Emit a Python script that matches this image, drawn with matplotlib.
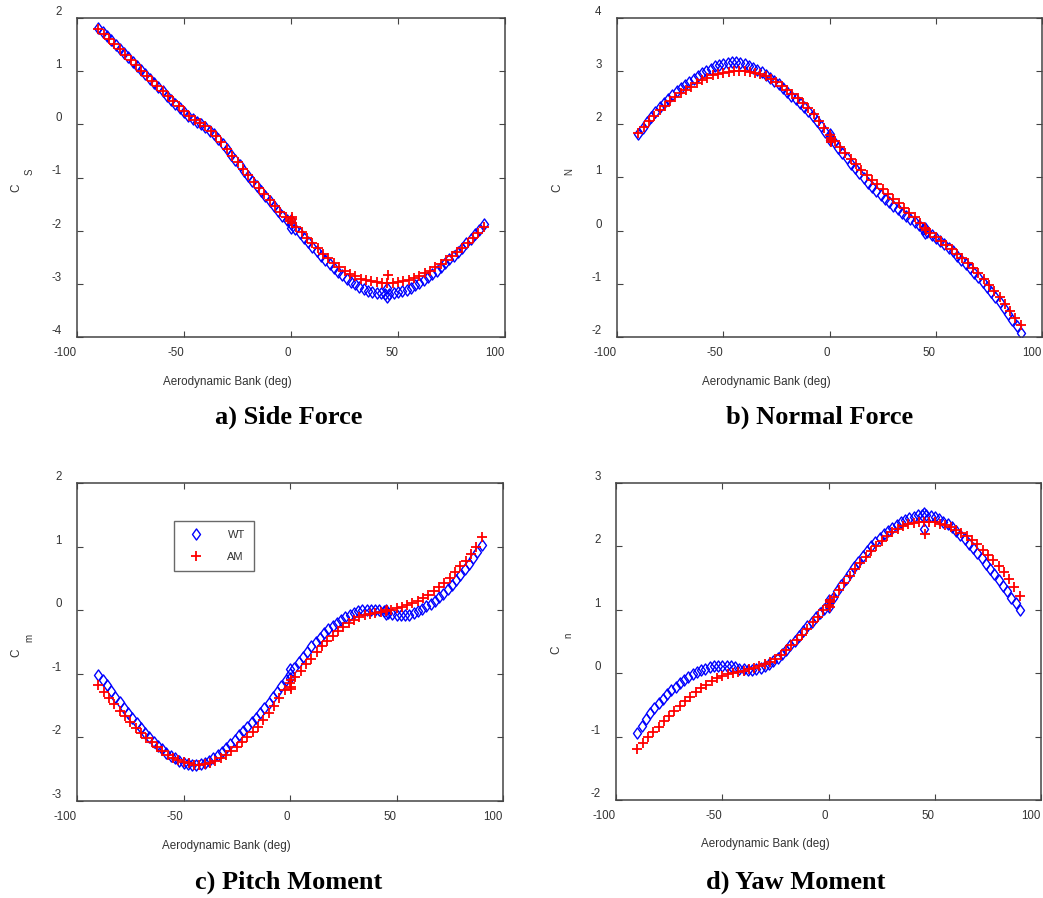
import matplotlib
matplotlib.use("Agg")
import matplotlib.pyplot as plt
from matplotlib.path import Path

# bank angles (deg)
bank_wt = [-90, -88, -86, -84, -82, -80, -78, -76, -74, -72, -70, -68, -66, -64, -62, -60,
           -58, -56, -54, -52, -50, -48, -46, -44, -42, -40, -38, -36, -34, -32, -30, -28,
           -26, -24, -22, -20, -18, -16, -14, -12, -10, -8, -6, -4, -2, 0, 2, 4, 6, 8, 10,
           12, 14, 16, 18, 20, 22, 24, 26, 28, 30, 32, 34, 36, 38, 40, 42, 44, 46, 48, 50,
           52, 54, 56, 58, 60, 62, 64, 66, 68, 70, 72, 74, 76, 78, 80, 82, 84, 86, 88, 90]
bank_am = [-90, -87.5, -85, -82.5, -80, -77.5, -75, -72.5, -70, -67.5, -65, -62.5, -60,
           -57.5, -55, -52.5, -50, -47.5, -45, -42.5, -40, -37.5, -35, -32.5, -30, -27.5,
           -25, -22.5, -20, -17.5, -15, -12.5, -10, -7.5, -5, -2.5, 0, 2.5, 5, 7.5, 10,
           12.5, 15, 17.5, 20, 22.5, 25, 27.5, 30, 32.5, 35, 37.5, 40, 42.5, 45, 47.5, 50,
           52.5, 55, 57.5, 60, 62.5, 65, 67.5, 70, 72.5, 75, 77.5, 80, 82.5, 85, 87.5, 90]
# repeated runs at 0 and 45 deg
bank_wt_rep = [0, 0, 45, 45]
bank_am_rep = [0.5, 0.5, 0.5, 45.5]

# side force
cs_wt = [1.82, 1.74, 1.66, 1.58, 1.50, 1.42, 1.34, 1.26, 1.18, 1.10, 1.02, 0.94, 0.86, 0.78,
         0.70, 0.62, 0.54, 0.46, 0.38, 0.30, 0.23, 0.16, 0.10, 0.04, 0.00, -0.05, -0.12,
         -0.19, -0.28, -0.37, -0.47, -0.57, -0.67, -0.77, -0.87, -0.97, -1.07, -1.16, -1.26,
         -1.35, -1.45, -1.54, -1.63, -1.72, -1.80, -1.88, -1.97, -2.05, -2.14, -2.22, -2.30,
         -2.38, -2.47, -2.55, -2.63, -2.70, -2.77, -2.84, -2.90, -2.96, -3.01, -3.06, -3.10,
         -3.13, -3.15, -3.17, -3.18, -3.19, -3.19, -3.18, -3.16, -3.14, -3.11, -3.07, -3.03,
         -2.98, -2.93, -2.87, -2.81, -2.75, -2.68, -2.61, -2.54, -2.47, -2.40, -2.32, -2.24,
         -2.16, -2.07, -1.98, -1.88]
cs_am = [1.80, 1.70, 1.61, 1.51, 1.41, 1.31, 1.21, 1.11, 1.01, 0.91, 0.81, 0.72, 0.62, 0.53,
         0.43, 0.34, 0.25, 0.16, 0.09, 0.02, -0.04, -0.12, -0.22, -0.34, -0.46, -0.59, -0.71,
         -0.84, -0.96, -1.08, -1.20, -1.31, -1.42, -1.53, -1.64, -1.74, -1.82, -1.93, -2.03,
         -2.13, -2.23, -2.33, -2.43, -2.52, -2.60, -2.68, -2.75, -2.81, -2.86, -2.90, -2.93,
         -2.95, -2.97, -2.98, -2.98, -2.98, -2.97, -2.95, -2.92, -2.89, -2.85, -2.80, -2.75,
         -2.69, -2.62, -2.55, -2.48, -2.40, -2.32, -2.23, -2.14, -2.04, -1.94]
cs_wt_rep = [-1.80, -1.95, -3.25, -3.08]
cs_am_rep = [-1.74, -1.78, -1.86, -2.84]

# normal force
cn_wt = [1.82, 1.93, 2.04, 2.14, 2.24, 2.33, 2.41, 2.48, 2.55, 2.62, 2.68, 2.74, 2.80, 2.86,
         2.91, 2.96, 3.01, 3.05, 3.09, 3.12, 3.14, 3.16, 3.17, 3.17, 3.16, 3.13, 3.10, 3.06,
         3.02, 2.98, 2.93, 2.87, 2.81, 2.75, 2.68, 2.61, 2.54, 2.47, 2.40, 2.33, 2.25, 2.16,
         2.06, 1.96, 1.86, 1.76, 1.66, 1.56, 1.46, 1.36, 1.26, 1.17, 1.08, 0.99, 0.90, 0.82,
         0.74, 0.67, 0.60, 0.53, 0.47, 0.41, 0.34, 0.28, 0.22, 0.16, 0.10, 0.04, -0.02, -0.08,
         -0.13, -0.19, -0.25, -0.32, -0.39, -0.47, -0.55, -0.63, -0.71, -0.79, -0.88, -0.97,
         -1.06, -1.15, -1.25, -1.35, -1.46, -1.57, -1.68, -1.80, -1.92]
cn_am = [1.84, 1.95, 2.06, 2.16, 2.27, 2.35, 2.43, 2.51, 2.58, 2.65, 2.71, 2.77, 2.83, 2.88,
         2.92, 2.95, 2.97, 2.99, 3.00, 3.00, 3.00, 2.99, 2.97, 2.94, 2.90, 2.85, 2.79, 2.72,
         2.65, 2.57, 2.49, 2.40, 2.31, 2.19, 2.07, 1.94, 1.80, 1.69, 1.58, 1.46, 1.35, 1.25,
         1.15, 1.05, 0.96, 0.87, 0.78, 0.69, 0.60, 0.52, 0.43, 0.34, 0.25, 0.15, 0.05, -0.04,
         -0.11, -0.19, -0.27, -0.35, -0.43, -0.52, -0.61, -0.70, -0.80, -0.91, -1.02, -1.13,
         -1.25, -1.38, -1.51, -1.64, -1.78]
cn_wt_rep = [1.70, 1.82, 0.05, -0.05]
cn_am_rep = [1.70, 1.74, 1.66, 0.02]

# pitch moment
cm_wt = [-1.02, -1.10, -1.18, -1.27, -1.36, -1.45, -1.54, -1.62, -1.70, -1.78, -1.86, -1.93,
         -2.00, -2.07, -2.13, -2.19, -2.24, -2.29, -2.33, -2.37, -2.40, -2.42, -2.43, -2.43,
         -2.42, -2.40, -2.37, -2.33, -2.28, -2.23, -2.17, -2.11, -2.04, -1.97, -1.90, -1.83,
         -1.76, -1.69, -1.62, -1.54, -1.46, -1.37, -1.28, -1.19, -1.09, -1.00, -0.91, -0.82,
         -0.73, -0.65, -0.57, -0.50, -0.43, -0.36, -0.30, -0.25, -0.20, -0.15, -0.11, -0.07,
         -0.04, -0.02, 0.00, 0.01, 0.01, 0.01, 0.00, -0.02, -0.04, -0.06, -0.07, -0.08, -0.08,
         -0.07, -0.05, -0.02, 0.02, 0.06, 0.10, 0.15, 0.20, 0.26, 0.33, 0.40, 0.48, 0.56, 0.64,
         0.73, 0.82, 0.92, 1.02]
cm_am = [-1.18, -1.28, -1.38, -1.48, -1.58, -1.67, -1.76, -1.85, -1.93, -2.01, -2.08, -2.15,
         -2.21, -2.27, -2.32, -2.36, -2.39, -2.41, -2.43, -2.43, -2.42, -2.40, -2.37, -2.33,
         -2.28, -2.22, -2.15, -2.08, -2.00, -1.92, -1.83, -1.73, -1.62, -1.50, -1.38, -1.26,
         -1.15, -1.05, -0.95, -0.85, -0.76, -0.66, -0.57, -0.48, -0.40, -0.33, -0.26, -0.20,
         -0.15, -0.11, -0.08, -0.06, -0.04, -0.03, -0.01, 0.01, 0.03, 0.05, 0.08, 0.11, 0.15,
         0.19, 0.24, 0.30, 0.36, 0.43, 0.51, 0.60, 0.69, 0.78, 0.88, 1.00, 1.15]
cm_wt_rep = [-0.93, -1.06, 0.00, -0.06]
cm_am_rep = [-1.20, -1.24, -1.10, 0.00]

# yaw moment
cyn_wt = [-0.95, -0.84, -0.73, -0.63, -0.55, -0.47, -0.40, -0.33, -0.27, -0.21, -0.16, -0.11,
          -0.06, -0.02, 0.02, 0.05, 0.07, 0.09, 0.11, 0.12, 0.12, 0.12, 0.11, 0.09, 0.07, 0.06,
          0.05, 0.05, 0.06, 0.08, 0.11, 0.15, 0.19, 0.24, 0.30, 0.37, 0.44, 0.51, 0.58, 0.66,
          0.74, 0.81, 0.88, 0.95, 1.02, 1.10, 1.19, 1.29, 1.39, 1.49, 1.58, 1.67, 1.76, 1.85,
          1.93, 2.00, 2.07, 2.13, 2.19, 2.24, 2.29, 2.34, 2.38, 2.42, 2.45, 2.47, 2.49, 2.50,
          2.50, 2.48, 2.46, 2.43, 2.39, 2.35, 2.30, 2.24, 2.18, 2.11, 2.04, 1.97, 1.89, 1.81,
          1.73, 1.64, 1.56, 1.47, 1.38, 1.29, 1.19, 1.10, 1.00]
cyn_am = [-1.20, -1.10, -1.01, -0.93, -0.85, -0.76, -0.68, -0.60, -0.52, -0.44, -0.37, -0.30,
          -0.24, -0.18, -0.13, -0.08, -0.05, -0.02, 0.00, 0.02, 0.04, 0.06, 0.08, 0.11, 0.14,
          0.18, 0.23, 0.29, 0.36, 0.44, 0.52, 0.61, 0.70, 0.80, 0.89, 0.99, 1.08, 1.20, 1.31,
          1.42, 1.53, 1.64, 1.74, 1.84, 1.92, 2.00, 2.08, 2.16, 2.23, 2.28, 2.32, 2.35, 2.37,
          2.38, 2.39, 2.39, 2.38, 2.36, 2.33, 2.30, 2.26, 2.21, 2.16, 2.10, 2.03, 1.95, 1.87,
          1.78, 1.69, 1.59, 1.48, 1.36, 1.22]
cyn_wt_rep = [1.05, 1.15, 2.28, 2.52]
cyn_am_rep = [1.12, 1.16, 1.04, 2.20]

plt.rcParams['font.family'] = ['Liberation Sans', 'DejaVu Sans']
plt.rcParams['axes.unicode_minus'] = False

W, H = 1043, 898
fig = plt.figure(figsize=(W / 100, H / 100), dpi=100)

def fx(px):
    return px / W

def fy(py):
    return 1 - py / H

# slightly wider diamond than matplotlib's 'd'
diamond = Path([(0, -1), (0.72, 0), (0, 1), (-0.72, 0), (0, -1)],
               [Path.MOVETO, Path.LINETO, Path.LINETO, Path.LINETO, Path.CLOSEPOLY])

panels = [
    ((77, 18, 505, 337), cs_wt, cs_wt_rep, cs_am, cs_am_rep, (-4, 2), 'S', 'a) Side Force',
     (16, 188), (30, 172), (227, 382), (289, 417)),
    ((617, 18, 1042, 337), cn_wt, cn_wt_rep, cn_am, cn_am_rep, (-2, 4), 'N', 'b) Normal Force',
     (557, 188), (569, 172), (766, 382), (820, 417)),
    ((77, 483, 503, 801), cm_wt, cm_wt_rep, cm_am, cm_am_rep, (-3, 2), 'm', 'c) Pitch Moment',
     (16, 653), (29, 638), (226, 846), (289, 882)),
    ((616, 483, 1041, 800), cyn_wt, cyn_wt_rep, cyn_am, cyn_am_rep, (-2, 3), 'n', 'd) Yaw Moment',
     (556, 650), (568, 635), (765, 844), (796, 882)),
]

tick_col = '#333333'
for i, (rect, wt, wt_rep, am, am_rep, ylim, sub, title, cpos, spos, xlpos, tpos) in enumerate(panels):
    l, t, r, b = rect
    ax = fig.add_axes([fx(l), fy(b), (r - l) / W, (b - t) / H])
    ax.plot(bank_wt + bank_wt_rep, wt + wt_rep, linestyle='none', marker=diamond, ms=8,
            mfc='none', mec='#0000ff', mew=1.0, label='WT')
    ax.plot(bank_am + bank_am_rep, am + am_rep, linestyle='none', marker='+', ms=7.5,
            mec='#ff0000', mew=1.3, label='AM')
    ax.set_xlim(-100, 100)
    ax.set_ylim(*ylim)
    ax.set_xticks([-100, -50, 0, 50, 100])
    ax.set_yticks(list(range(ylim[0], ylim[1] + 1)))
    ax.tick_params(direction='in', top=True, right=True, length=4, width=0.8,
                   labelsize=8.3, labelcolor=tick_col, color='#444444')
    ax.tick_params(axis='x', pad=7)
    ax.tick_params(axis='y', pad=11)
    for lab in ax.get_xticklabels():
        lab.set_ha('right')
    for lab in ax.get_yticklabels():
        lab.set_va('bottom')
    for sp in ax.spines.values():
        sp.set_color('#444444')
        sp.set_linewidth(1.1)

    fig.text(fx(cpos[0]), fy(cpos[1]), 'C', rotation=90, ha='center', va='center',
             fontsize=8.5, color=tick_col)
    fig.text(fx(spos[0]), fy(spos[1]), sub, rotation=90, ha='center', va='center',
             fontsize=7, color=tick_col)
    fig.text(fx(xlpos[0]), fy(xlpos[1]), 'Aerodynamic Bank (deg)', ha='center', va='center',
             fontsize=8.4, color=tick_col)
    fig.text(fx(tpos[0]), fy(tpos[1]), title, ha='center', va='center', fontsize=19,
             fontweight='bold', family=['Liberation Serif', 'DejaVu Serif'])

    if i == 2:
        leg = ax.legend(loc='upper left', bbox_to_anchor=(0.228, 0.880), fontsize=8,
                        frameon=True, fancybox=False, edgecolor='#444444',
                        borderpad=0.8, labelspacing=1.1, handlelength=2.4,
                        handletextpad=1.6, borderaxespad=0)
        leg.get_frame().set_linewidth(1.0)
        for txt in leg.get_texts():
            txt.set_color(tick_col)

fig.savefig('out.png', dpi=100)
